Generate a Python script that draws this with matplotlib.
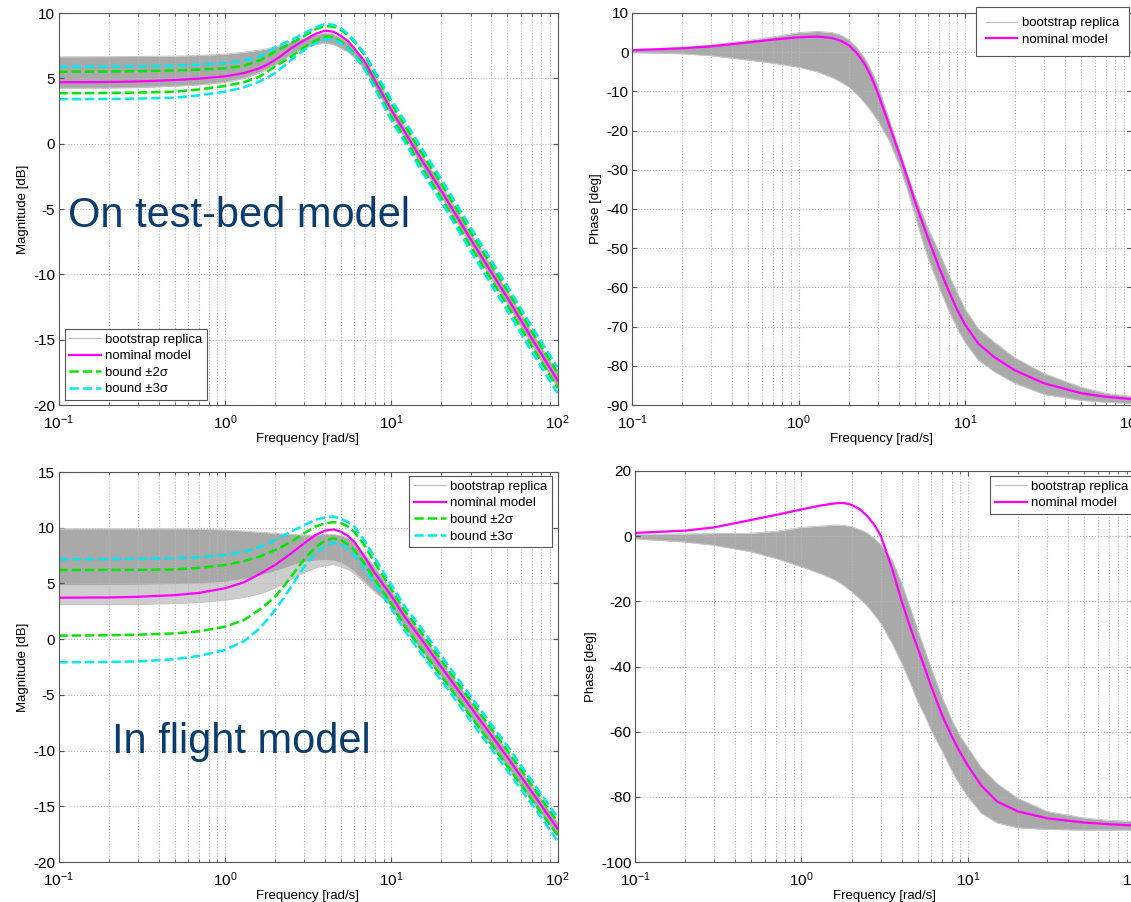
import matplotlib.pyplot as plt
from matplotlib.lines import Line2D

plt.rcParams['font.family'] = ['Liberation Sans', 'DejaVu Sans']
plt.rcParams['axes.unicode_minus'] = False

freq = [0.1, 0.2, 0.3, 0.5, 0.7, 1, 1.3, 1.6, 1.8, 2, 2.25, 2.5, 2.75, 3, 3.5, 4, 4.5, 5,
        5.5, 6, 7, 8, 9, 10, 12, 15, 20, 30, 50, 70, 100]

# --- on test-bed model, magnitude [dB]
tb_mag_nom = [4.70, 4.72, 4.76, 4.87, 4.98, 5.15, 5.40, 5.75, 6.05, 6.40, 6.85, 7.30, 7.62, 7.90,
              8.40, 8.65, 8.57, 8.24, 7.85, 7.30, 6.20, 4.80, 3.65, 2.60, 0.95, -1.10, -3.60,
              -7.30, -11.80, -14.90, -18.10]
tb_mag_2s_hi = [5.51, 5.52, 5.55, 5.60, 5.67, 5.77, 5.95, 6.35, 6.68, 7.04, 7.38, 7.68, 7.97, 8.24,
                8.75, 9.00, 8.95, 8.70, 8.30, 7.80, 6.70, 5.30, 4.15, 3.10, 1.45, -0.55, -3.05,
                -6.75, -11.25, -14.35, -17.50]
tb_mag_2s_lo = [3.86, 3.88, 3.91, 3.98, 4.15, 4.41, 4.70, 5.10, 5.50, 5.90, 6.30, 6.66, 7.03, 7.38,
                7.88, 8.19, 8.14, 7.80, 7.38, 6.90, 5.80, 4.40, 3.20, 2.10, 0.50, -1.65, -4.15,
                -7.85, -12.40, -15.50, -18.70]
tb_mag_3s_hi = [5.89, 5.90, 5.92, 5.97, 6.05, 6.15, 6.35, 6.66, 7.02, 7.37, 7.66, 7.93, 8.20, 8.44,
                8.90, 9.16, 9.10, 8.83, 8.40, 7.90, 6.80, 5.50, 4.40, 3.40, 1.80, -0.20, -2.70,
                -6.40, -10.90, -14.00, -17.10]
tb_mag_3s_lo = [3.40, 3.42, 3.45, 3.52, 3.70, 3.98, 4.30, 4.75, 5.05, 5.39, 5.92, 6.40, 6.82, 7.17,
                7.68, 7.99, 7.99, 7.68, 7.28, 6.80, 5.60, 4.20, 2.95, 1.80, 0.20, -1.95, -4.45,
                -8.20, -12.80, -15.90, -19.10]
tb_mag_rep_hi = [6.65, 6.66, 6.67, 6.70, 6.75, 6.85, 7.00, 7.15, 7.27, 7.40, 7.60, 7.80, 7.97, 8.10,
                 8.35, 8.50, 8.40, 8.10, 7.75, 7.30, 6.40, 5.20, 4.10, 2.95, 1.35, -0.65, -3.15,
                 -6.85, -11.30, -14.40, -17.50]
tb_mag_rep_lo = [4.25, 4.26, 4.30, 4.40, 4.50, 4.70, 5.00, 5.40, 5.70, 6.00, 6.42, 6.80, 7.08, 7.30,
                 7.60, 7.70, 7.60, 7.30, 7.00, 6.60, 5.60, 4.30, 3.20, 2.20, 0.55, -1.55, -4.05,
                 -7.75, -12.30, -15.40, -18.70]

# --- on test-bed model, phase [deg]
tb_ph_nom = [0.5, 1.0, 1.5, 2.5, 3.2, 3.8, 4.0, 3.6, 2.9, 1.8, -0.3, -3.0, -6.5, -10.5,
             -18.5, -25.5, -32.0, -38.0, -43.0, -47.5, -55.0, -61.0, -65.8, -69.5, -74.3, -77.8,
             -81.2, -84.5, -87.0, -87.9, -88.5]
tb_ph_rep_hi = [0.6, 1.2, 1.8, 3.0, 3.9, 5.0, 5.3, 5.0, 4.3, 3.2, 1.1, -1.5, -4.8, -8.5,
                -17.0, -24.5, -31.0, -36.5, -41.0, -45.0, -51.0, -57.0, -61.5, -65.5, -70.5, -74.0,
                -78.0, -82.0, -85.5, -87.0, -87.8]
tb_ph_rep_lo = [-0.1, -0.4, -0.9, -2.0, -2.8, -3.8, -5.0, -6.5, -7.6, -8.8, -10.8, -13.0, -15.2,
                -17.5, -22.5, -28.5, -35.0, -41.5, -47.5, -52.5, -60.0, -66.0, -70.5, -74.0, -78.5,
                -81.5, -84.5, -87.3, -88.8, -89.3, -89.6]

# --- in flight model, magnitude [dB]
fl_mag_nom = [3.72, 3.74, 3.80, 3.95, 4.15, 4.56, 5.10, 5.80, 6.25, 6.65, 7.20, 7.70, 8.17, 8.60,
              9.34, 9.73, 9.85, 9.64, 9.25, 8.74, 7.25, 5.90, 4.85, 3.90, 2.05, 0.10, -2.50,
              -6.10, -10.60, -13.70, -17.00]
fl_mag_2s_hi = [6.20, 6.21, 6.22, 6.25, 6.40, 6.65, 7.00, 7.40, 7.70, 8.00, 8.37, 8.74, 9.12, 9.50,
                10.10, 10.40, 10.50, 10.40, 10.10, 9.64, 8.30, 6.80, 5.60, 4.50, 2.60, 0.70, -1.90,
                -5.50, -10.00, -13.10, -16.40]
fl_mag_2s_lo = [0.31, 0.35, 0.40, 0.52, 0.70, 1.11, 1.70, 2.60, 3.20, 3.80, 4.70, 5.60, 6.42, 7.16,
                8.24, 8.83, 9.05, 8.90, 8.50, 8.00, 6.65, 5.30, 4.20, 3.20, 1.20, -0.80, -3.30,
                -6.90, -11.40, -14.40, -17.60]
fl_mag_3s_hi = [7.16, 7.18, 7.20, 7.25, 7.35, 7.55, 7.85, 8.25, 8.57, 8.90, 9.28, 9.64, 9.95, 10.24,
                10.70, 10.93, 11.00, 10.80, 10.50, 10.10, 8.74, 7.25, 6.00, 4.90, 3.00, 1.10, -1.50,
                -5.10, -9.60, -12.70, -16.00]
fl_mag_3s_lo = [-2.08, -2.05, -2.00, -1.80, -1.50, -0.98, -0.20, 0.90, 1.75, 2.60, 3.65, 4.70, 5.65,
                6.50, 7.70, 8.36, 8.65, 8.50, 8.05, 7.55, 6.20, 4.90, 3.80, 2.80, 0.80, -1.20, -3.70,
                -7.30, -11.80, -14.80, -18.10]
fl_mag_rep_hi = [9.90, 9.90, 9.90, 9.90, 9.88, 9.80, 9.70, 9.60, 9.55, 9.50, 9.45, 9.40, 9.37, 9.35,
                 9.35, 9.40, 9.40, 9.30, 9.05, 8.70, 7.60, 6.40, 5.40, 4.40, 2.50, 0.60, -2.00,
                 -5.60, -10.10, -13.20, -16.40]
fl_mag_core_lo = [4.90, 4.90, 4.92, 5.00, 5.05, 5.20, 5.45, 5.75, 5.95, 6.15, 6.40, 6.65, 6.85, 7.00,
                  7.10, 7.15, 7.10, 6.90, 6.55, 6.10, 5.15, 4.30, 3.65, 3.00, 1.10, -0.90, -3.40,
                  -7.00, -11.50, -14.50, -17.60]
fl_mag_rep_lo = [3.10, 3.10, 3.12, 3.20, 3.30, 3.50, 3.75, 4.05, 4.30, 4.60, 5.00, 5.40, 5.70, 6.00,
                 6.40, 6.60, 6.70, 6.50, 6.25, 5.90, 5.00, 4.20, 3.60, 3.00, 1.10, -0.90, -3.40,
                 -7.00, -11.50, -14.50, -17.60]

# --- in flight model, phase [deg]
fl_ph_nom = [1.0, 1.7, 2.7, 5.0, 6.5, 8.2, 9.4, 10.1, 10.2, 9.6, 8.2, 6.0, 3.3, 0.0,
             -10.0, -20.0, -28.0, -34.5, -40.5, -46.0, -55.0, -61.5, -66.5, -70.5, -76.5, -81.5,
             -84.5, -86.6, -87.9, -88.4, -88.8]
fl_ph_rep_hi = [0.6, 0.7, 0.8, 0.9, 1.5, 2.7, 3.1, 3.4, 3.3, 2.9, 2.0, 0.9, -0.8, -2.7,
                -7.3, -14.5, -22.0, -29.0, -35.0, -40.5, -49.5, -56.5, -61.5, -65.0, -71.0, -76.0,
                -80.5, -84.5, -86.5, -87.2, -87.6]
fl_ph_rep_lo = [-0.8, -1.8, -2.8, -4.8, -6.8, -9.4, -11.5, -13.5, -15.2, -17.0, -19.3, -21.6, -24.2,
                -26.8, -32.9, -39.0, -45.0, -51.0, -55.0, -59.5, -66.0, -72.0, -76.5, -80.0, -85.0,
                -88.0, -89.5, -90.0, -90.2, -90.2, -90.2]

GREY = '#a9a9a9'
GREY_LIGHT = '#cdcdcd'
GREY_EDGE = '#c6c6c6'
MAGENTA = '#ff00ff'
GREEN = '#00e600'
CYAN = '#00e8f0'
TXT_BLUE = '#0b3c6e'

W, H = 1131, 902
fig = plt.figure(figsize=(W / 100, H / 100), dpi=100)


def place(l, r, t, b):
    return fig.add_axes([l / W, 1 - b / H, (r - l) / W, (b - t) / H])


def style(ax, ylim, yticks, ylabel):
    ax.set_xscale('log')
    ax.set_xlim(0.1, 100)
    ax.set_ylim(*ylim)
    ax.set_yticks(yticks)
    ax.grid(True, which='major', ls=':', color='#b8b8b8', lw=0.8)
    ax.grid(True, which='minor', axis='x', ls=':', color='#b8b8b8', lw=0.8)
    ax.tick_params(which='both', direction='in', top=True, right=True,
                   labelsize=11, color='#555555')
    ax.tick_params(axis='y', pad=2.5)
    ax.tick_params(axis='x', pad=6)
    for s in ax.spines.values():
        s.set_color('#555555')
        s.set_linewidth(0.8)
    ax.set_xlabel('Frequency [rad/s]', fontsize=9.5, labelpad=1)
    ax.set_ylabel(ylabel, fontsize=9.5, labelpad=3)


def bundle(ax, hi, lo):
    ax.fill_between(freq, lo, hi, color=GREY, lw=0)
    ax.plot(freq, hi, color=GREY_EDGE, lw=0.7)
    ax.plot(freq, lo, color=GREY_EDGE, lw=0.7)


def legend(ax, with_bounds, anchor, loc, pad=0.35):
    handles = [Line2D([], [], color='#bdbdbd', lw=0.8, label='bootstrap replica'),
               Line2D([], [], color=MAGENTA, lw=1.6, label='nominal model')]
    if with_bounds:
        handles += [Line2D([], [], color=GREEN, lw=1.8, ls='--', label='bound \u00b12\u03c3'),
                    Line2D([], [], color=CYAN, lw=1.8, ls='--', label='bound \u00b13\u03c3')]
    leg = ax.legend(handles=handles, loc=loc, bbox_to_anchor=(anchor[0] / W, 1 - anchor[1] / H),
                    bbox_transform=fig.transFigure, borderaxespad=0, fontsize=9.5,
                    handlelength=2.4, handletextpad=0.35, labelspacing=0.33, borderpad=pad,
                    fancybox=False, framealpha=1, edgecolor='#555555')
    leg.get_frame().set_linewidth(0.8)


ax_tl = place(58.5, 557.5, 13, 405)
ax_tr = place(632, 1131.5, 13, 405)
ax_bl = place(58.5, 557.5, 472, 862)
ax_br = place(635, 1134.5, 471, 862)

# top left: magnitude, test-bed
bundle(ax_tl, tb_mag_rep_hi, tb_mag_rep_lo)
ax_tl.plot(freq, tb_mag_nom, color=MAGENTA, lw=1.6)
ax_tl.plot(freq, tb_mag_2s_hi, color=GREEN, lw=1.8, ls='--')
ax_tl.plot(freq, tb_mag_2s_lo, color=GREEN, lw=1.8, ls='--')
ax_tl.plot(freq, tb_mag_3s_hi, color=CYAN, lw=1.8, ls='--')
ax_tl.plot(freq, tb_mag_3s_lo, color=CYAN, lw=1.8, ls='--')
style(ax_tl, (-20, 10), range(-20, 11, 5), 'Magnitude [dB]')
legend(ax_tl, True, (64.5, 400), 'lower left')

# top right: phase, test-bed
bundle(ax_tr, tb_ph_rep_hi, tb_ph_rep_lo)
ax_tr.plot(freq, tb_ph_nom, color=MAGENTA, lw=1.6)
style(ax_tr, (-90, 10), range(-90, 11, 10), 'Phase [deg]')
legend(ax_tr, False, (1129, 7), 'upper right', pad=0.75)

# bottom left: magnitude, in flight (sparser replicas outside the dense core)
ax_bl.fill_between(freq, fl_mag_rep_lo, fl_mag_rep_hi, color=GREY_LIGHT, lw=0)
ax_bl.fill_between(freq, fl_mag_core_lo, fl_mag_rep_hi, color=GREY, lw=0)
ax_bl.plot(freq, fl_mag_rep_hi, color=GREY_EDGE, lw=0.7)
ax_bl.plot(freq, fl_mag_rep_lo, color=GREY_EDGE, lw=0.7)
ax_bl.plot(freq, fl_mag_nom, color=MAGENTA, lw=1.6)
ax_bl.plot(freq, fl_mag_2s_hi, color=GREEN, lw=1.8, ls='--')
ax_bl.plot(freq, fl_mag_2s_lo, color=GREEN, lw=1.8, ls='--')
ax_bl.plot(freq, fl_mag_3s_hi, color=CYAN, lw=1.8, ls='--')
ax_bl.plot(freq, fl_mag_3s_lo, color=CYAN, lw=1.8, ls='--')
style(ax_bl, (-20, 15), range(-20, 16, 5), 'Magnitude [dB]')
legend(ax_bl, True, (552, 476), 'upper right')

# bottom right: phase, in flight
bundle(ax_br, fl_ph_rep_hi, fl_ph_rep_lo)
ax_br.plot(freq, fl_ph_nom, color=MAGENTA, lw=1.6)
style(ax_br, (-100, 20), range(-100, 21, 20), 'Phase [deg]')
legend(ax_br, False, (1133, 476), 'upper right')

fig.text(68 / W, 1 - 227 / H, 'On test-bed model', fontsize=30, color=TXT_BLUE,
         ha='left', va='baseline')
fig.text(112 / W, 1 - 753 / H, 'In flight model', fontsize=30, color=TXT_BLUE,
         ha='left', va='baseline')

fig.savefig('out.png', dpi=100)
